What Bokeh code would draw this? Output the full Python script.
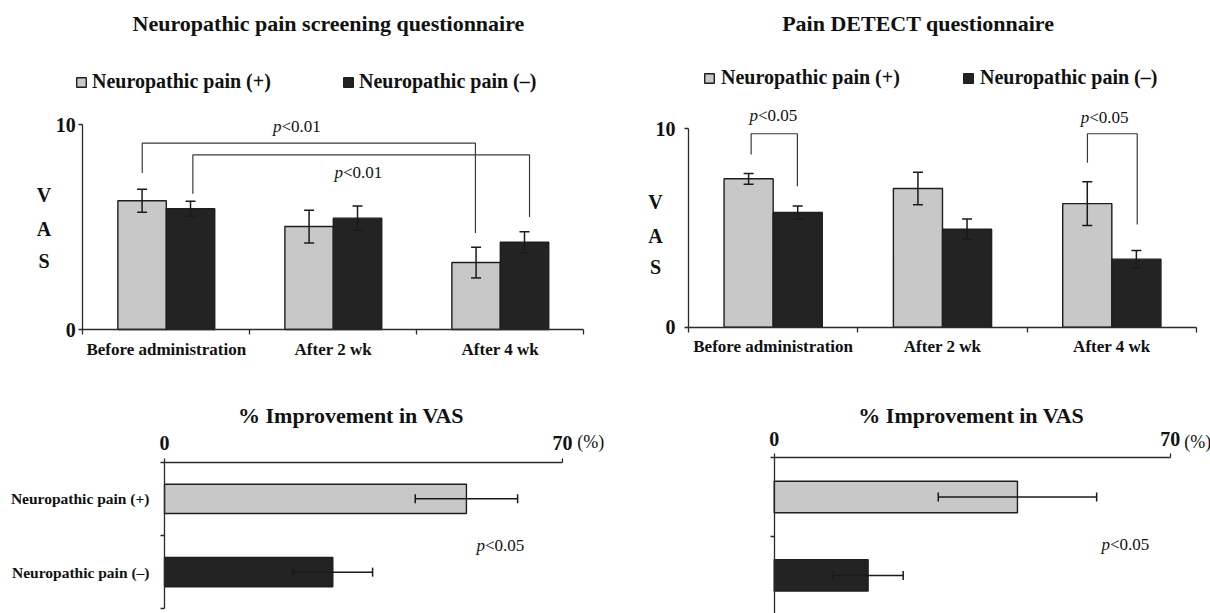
from bokeh.plotting import figure
from bokeh.models import (Range1d, FixedTicker, Whisker, ColumnDataSource, Label,
                          Legend, LegendItem, TeeHead)
from bokeh.layouts import row, column
from bokeh.embed import file_html
from bokeh.resources import INLINE

# ---------------- data ----------------
categories = ["Before administration", "After 2 wk", "After 4 wk"]
groups = ["Neuropathic pain (+)", "Neuropathic pain (–)"]

# Neuropathic pain screening questionnaire – VAS
screen_pos = [6.29, 5.03, 3.27]
screen_pos_err = [0.56, 0.80, 0.75]
screen_neg = [5.90, 5.44, 4.26]
screen_neg_err = [0.37, 0.59, 0.51]

# Pain DETECT questionnaire – VAS
detect_pos = [7.48, 6.99, 6.23]
detect_pos_err = [0.27, 0.82, 1.10]
detect_neg = [5.78, 4.94, 3.43]
detect_neg_err = [0.33, 0.51, 0.44]

# % improvement in VAS
improve_screen = [53.1, 29.6]
improve_screen_err = [9.0, 7.0]
improve_detect = [43.0, 16.6]
improve_detect_err = [14.0, 6.2]

# significance brackets: leg x (category units), leg bottoms, bracket top, label
screen_brackets = [
    dict(xs=[0.356, 2.351], bottoms=[7.65, 4.72], top=9.10, label="<0.01"),
    dict(xs=[0.659, 2.675], bottoms=[6.63, 5.49], top=8.53, label="<0.01"),
]
detect_brackets = [
    dict(xs=[0.370, 0.643], bottoms=[8.70, 7.11], top=9.75, label="<0.05"),
    dict(xs=[2.356, 2.650], bottoms=[8.29, 5.18], top=9.75, label="<0.05"),
]

# ---------------- style ----------------
FONT = "Liberation Serif"
LIGHT = "#c8c8c8"
DARK = "#232323"
EDGE = "#1e1e1e"
AXIS = "#2a2a2a"
BAR_W = 0.29


def xrange_px(origin_px, ppu, size_px):
    return Range1d(-origin_px / ppu, (size_px - origin_px) / ppu)


def yrange_px(v0, py0, ppu, size_px):
    return Range1d(v0 - (size_px - py0) / ppu, v0 + py0 / ppu)


def base_fig(w, h, xr, yr, x_loc="below"):
    p = figure(width=w, height=h, x_range=xr, y_range=yr, toolbar_location=None,
               output_backend="svg", x_axis_location=x_loc, min_border=0)
    p.outline_line_color = None
    p.xgrid.visible = False
    p.ygrid.visible = False
    p.background_fill_color = "white"
    p.border_fill_color = "white"
    for ax in (p.xaxis[0], p.yaxis[0]):
        ax.axis_line_color = AXIS
        ax.axis_line_width = 1.3
        ax.major_tick_line_color = AXIS
        ax.minor_tick_line_color = AXIS
        ax.major_tick_line_width = 1.3
        ax.minor_tick_line_width = 1.3
        ax.major_label_text_font = FONT
        ax.major_label_text_font_style = "bold"
        ax.major_label_text_color = "#111111"
    return p


def add_text(p, x, y, text, size, style="bold", align="center"):
    p.add_layout(Label(x=x, y=y, text=text, text_font=FONT, text_font_size=size,
                       text_font_style=style, text_align=align,
                       text_baseline="middle", text_color="#111111"))


def add_p(p, x, y, rest, size="17px"):
    add_text(p, x, y, "p", size, style="italic", align="right")
    add_text(p, x, y, rest, size, style="normal", align="left")


def whisker(src, base, dim, size):
    head = dict(size=size, line_width=1.5, line_color="#1a1a1a")
    return Whisker(base=base, lower="lo", upper="hi", source=src, dimension=dim,
                   line_color="#1a1a1a", line_width=1.5, level="annotation",
                   upper_head=TeeHead(**head), lower_head=TeeHead(**head))


def vas_panel(title, pos, pos_err, neg, neg_err, brackets, geo, lay):
    w, h, x0px, xppu, y0px, yppu = geo
    p = base_fig(w, h, xrange_px(x0px, xppu, w), yrange_px(0, y0px, yppu, h))
    n = len(categories)
    centers = [i + 0.5 for i in range(n)]
    xl = [c - BAR_W / 2 for c in centers]
    xd = [c + BAR_W / 2 for c in centers]
    src_l = ColumnDataSource(dict(x=xl, top=pos, lo=[v - e for v, e in zip(pos, pos_err)],
                                  hi=[v + e for v, e in zip(pos, pos_err)]))
    src_d = ColumnDataSource(dict(x=xd, top=neg, lo=[v - e for v, e in zip(neg, neg_err)],
                                  hi=[v + e for v, e in zip(neg, neg_err)]))
    r_l = p.vbar(x="x", top="top", width=BAR_W, source=src_l, fill_color=LIGHT,
                 line_color=EDGE, line_width=1.4)
    r_d = p.vbar(x="x", top="top", width=BAR_W, source=src_d, fill_color=DARK,
                 line_color=EDGE, line_width=1.4)
    for src in (src_l, src_d):
        p.add_layout(whisker(src, "x", "height", 10))
    # brackets
    bx = [[b["xs"][0], b["xs"][0], b["xs"][1], b["xs"][1]] for b in brackets]
    by = [[b["bottoms"][0], b["top"], b["top"], b["bottoms"][1]] for b in brackets]
    p.multi_line(xs=bx, ys=by, line_color="#3a3a3a", line_width=1.2)

    # axes (fixed at the data origin)
    xa = p.xaxis[0]
    xa.fixed_location = 0
    xa.bounds = (0, n)
    xa.ticker = FixedTicker(ticks=centers, minor_ticks=list(range(n + 1)))
    xa.major_label_overrides = {c: lab for c, lab in zip(centers, categories)}
    xa.major_tick_out = 0
    xa.major_tick_in = 0
    xa.minor_tick_out = 5
    xa.minor_tick_in = 0
    xa.major_label_text_font_size = "17px"
    xa.major_label_standoff = 5
    ya = p.yaxis[0]
    ya.fixed_location = 0
    ya.ticker = FixedTicker(ticks=[0, 10])
    ya.bounds = (0, 10)
    ya.major_tick_out = 4
    ya.major_tick_in = 0
    ya.minor_tick_out = 0
    ya.minor_tick_in = 0
    ya.major_label_text_font_size = "20px"
    ya.major_label_standoff = lay["ystand"]

    # legend
    leg = Legend(items=[LegendItem(label=groups[0], renderers=[r_l]),
                        LegendItem(label=groups[1], renderers=[r_d])],
                 orientation="horizontal", location=lay["leg_loc"],
                 glyph_width=12, glyph_height=12, label_standoff=lay["leg_stand"],
                 label_width=lay["leg_lw"], spacing=0, padding=0, margin=0,
                 label_height=20, border_line_color=None, background_fill_alpha=0,
                 label_text_font=FONT, label_text_font_size="20px",
                 label_text_font_style="bold", label_text_color="#111111")
    p.add_layout(leg)

    # texts
    add_text(p, lay["title"][0], lay["title"][1], title, "22px")
    for letter, yy in zip("VAS", lay["vas_y"]):
        add_text(p, lay["vas_x"], yy, letter, "20px")
    for b, (tx, ty) in zip(brackets, lay["p_pos"]):
        add_p(p, tx, ty, b["label"])
    return p


def improve_panel(vals, errs, show_labels, geo, lay):
    w, h, x0px, xppu, y2px, yppu = geo
    p = base_fig(w, h, xrange_px(x0px, xppu, w), yrange_px(2, y2px, yppu, h), x_loc="above")
    ys = [len(groups) - i - 0.5 for i in range(len(groups))]
    src = ColumnDataSource(dict(y=ys, right=vals, color=[LIGHT, DARK],
                                lo=[v - e for v, e in zip(vals, errs)],
                                hi=[v + e for v, e in zip(vals, errs)]))
    p.hbar(y="y", left=0, right="right", height=0.4, source=src, fill_color="color",
           line_color=EDGE, line_width=1.4)
    p.add_layout(whisker(src, "y", "width", 9))
    xa = p.xaxis[0]
    xa.fixed_location = len(groups)
    xa.bounds = (0, 70)
    xa.ticker = FixedTicker(ticks=[0, 70])
    xa.major_tick_out = 4
    xa.major_tick_in = 0
    xa.minor_tick_out = 0
    xa.minor_tick_in = 0
    xa.major_label_text_font_size = "20px"
    xa.major_label_standoff = 8
    ya = p.yaxis[0]
    ya.fixed_location = 0
    ya.bounds = (0, len(groups))
    ya.ticker = FixedTicker(ticks=ys, minor_ticks=list(range(len(groups) + 1)))
    ya.major_label_overrides = {y: (g if show_labels else "") for y, g in zip(ys, groups)}
    ya.major_tick_out = 0
    ya.major_tick_in = 0
    ya.minor_tick_out = 4
    ya.minor_tick_in = 0
    ya.major_label_text_font_size = "15.5px"
    ya.major_label_standoff = 11
    add_text(p, lay["title"][0], lay["title"][1], "% Improvement in VAS", "22px")
    add_text(p, lay["pct"][0], lay["pct"][1], "(%)", "18px", style="normal", align="left")
    add_p(p, lay["p_pos"][0], lay["p_pos"][1], "<0.05")
    return p


# geometry: (width, height, x-origin px, x px/unit, y-ref px, y px/unit)
p1 = vas_panel("Neuropathic pain screening questionnaire", screen_pos, screen_pos_err,
               screen_neg, screen_neg_err, screen_brackets,
               (605, 370, 82.3, 167.0, 329.0, 20.47),
               dict(ystand=3, leg_loc=(75, 277), leg_stand=5, leg_lw=250,
                    title=(1.471, 14.95), vas_x=-0.232, vas_y=[6.55, 4.92, 3.37],
                    p_pos=[(1.19, 9.92), (1.558, 7.68)]))
p2 = vas_panel("Pain DETECT questionnaire", detect_pos, detect_pos_err,
               detect_neg, detect_neg_err, detect_brackets,
               (605, 370, 83.0, 169.33, 326.7, 19.84),
               dict(ystand=9, leg_loc=(98, 281), leg_stand=6, leg_lw=241,
                    title=(1.357, 15.31), vas_x=-0.195, vas_y=[6.30, 4.62, 3.02],
                    p_pos=[(0.41, 10.67), (2.366, 10.58)]))
p3 = improve_panel(improve_screen, improve_screen_err, True,
                   (605, 243, 164.0, 5.686, 91.7, 73.3),
                   dict(title=(32.8, 2.637), pct=(72.6, 2.273), p_pos=(56.37, 0.864)))
p4 = improve_panel(improve_detect, improve_detect_err, False,
                   (605, 243, 168.7, 5.657, 87.3, 78.4),
                   dict(title=(34.84, 2.54), pct=(72.5, 2.2), p_pos=(59.36, 0.894)))

layout = column(row(p1, p2), row(p3, p4))
open("out.html", "w").write(file_html(layout, INLINE))
